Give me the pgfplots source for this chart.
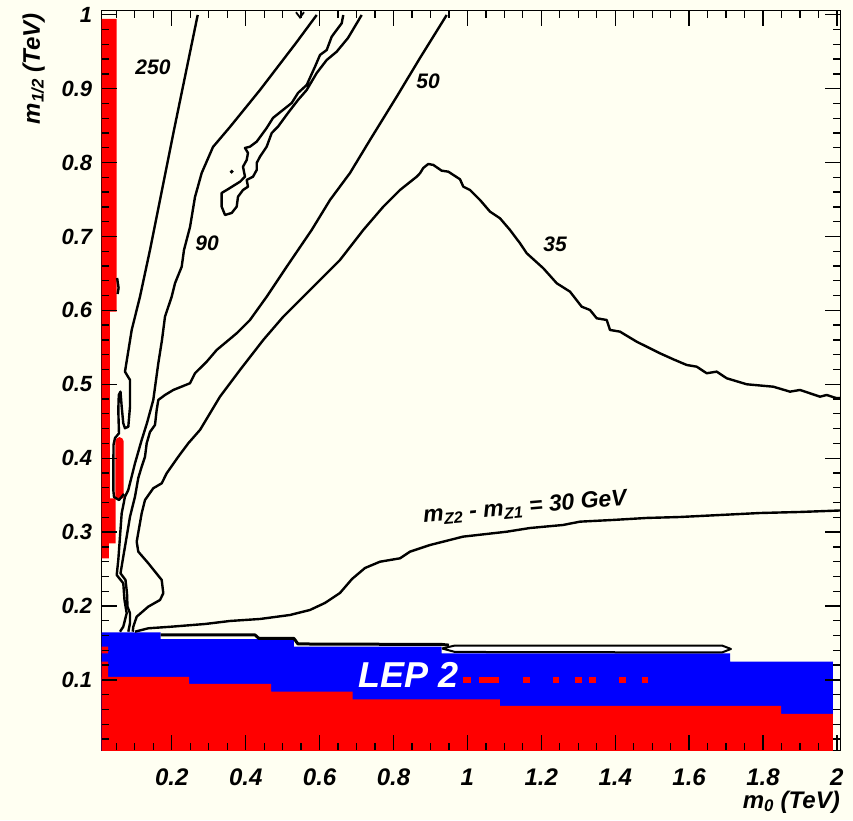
\documentclass[border=0pt]{standalone}
\usepackage{fontspec}
\setmainfont{Liberation Sans}
\usepackage{pgfplots}
\usepackage{pgfplotstable}
\pgfplotsset{compat=1.18}
\definecolor{bgc}{RGB}{255,255,242}
\definecolor{myred}{RGB}{255,0,0}
\definecolor{myblue}{RGB}{0,0,255}
\pgfplotstableread{
dx dy
-0.00176 0
0.00176 0
0.00176 1
-0.00176 1
}\vshape
\pgfplotstableread{
dx dy
0 -0.00088
0 0.00088
1 0.00088
1 -0.00088
}\hshape
\begin{document}
\begin{tikzpicture}
\fill[bgc] (0,0) rectangle (853pt,820pt);
\begin{axis}[
  at={(101.7pt,70pt)}, anchor=south west,
  width=738.3pt, height=739pt, scale only axis,
  xmin=0.0103, xmax=2.0084, ymin=0.0051, ymax=1.0051,
  axis line style={line width=1pt, black},
  tick align=inside,
  major tick length=15pt, minor tick length=7pt,
  major tick style={black, line width=0.9pt},
  minor tick style={black, line width=0.9pt},
  xtick={0.2,0.4,0.6,0.8,1,1.2,1.4,1.6,1.8,2},
  ytick={0.1,0.2,0.3,0.4,0.5,0.6,0.7,0.8,0.9,1},
  /pgf/number format/assume math mode=true,
  xticklabel style={font=\fontsize{24}{28}\selectfont\bfseries\itshape, yshift=-15pt},
  yticklabel style={font=\fontsize{22}{26}\selectfont\bfseries\itshape, xshift=-6pt},
  xlabel={m\textsubscript{0} (TeV)},
  ylabel={m\textsubscript{1/2} (TeV)},
  label style={font=\fontsize{24}{28}\selectfont\bfseries\itshape, inner sep=0pt},
  xlabel style={at={(axis description cs:1,-0.055)}, anchor=north east},
  ylabel style={at={(axis description cs:-0.0768,0.9973)}, anchor=south east, rotate=0},
]
% LEP2 excluded regions
\addplot[fill=myblue, draw=none] coordinates {(0,0) (0,0.1644) (0.1700,0.1644) (0.1700,0.1553) (0.5307,0.1553) (0.5307,0.1449) (0.9305,0.1449) (0.9305,0.1360) (1.7107,0.1360) (1.7107,0.1246) (1.9894,0.1246) (1.9894,0) (0,0)};
\addplot[fill=myred, draw=none] coordinates {(0,0) (0,0.1039) (0.2466,0.1039) (0.2466,0.0945) (0.4685,0.0945) (0.4685,0.0840) (0.6896,0.0840) (0.6896,0.0737) (1.0882,0.0737) (1.0882,0.0647) (1.8487,0.0647) (1.8487,0.0539) (1.9894,0.0539) (1.9894,0) (0,0)};
\addplot[fill=myred, draw=none] coordinates {(0,0.1) (0.028,0.1) (0.028,0.1246) (0,0.1246) (0,0.1)};
\addplot[fill=myred, draw=none] coordinates {(0,0.136) (0.028,0.136) (0.028,0.1449) (0,0.1449) (0,0.136)};
% left red strip
\addplot[fill=myred, draw=none] coordinates {(0,0.9943) (0.0509,0.9943) (0.0509,0.5982) (0.0327,0.5982) (0.0327,0.3457) (0.0482,0.3457) (0.0482,0.2848) (0.0300,0.2848) (0.0300,0.2645) (0,0.2645) (0,0.9943)};
\addplot[fill=myred, draw=none] coordinates {(0.0476,0.3457) (0.0476,0.4233) (0.0510,0.4268) (0.0585,0.4285) (0.0660,0.4268) (0.0693,0.4233) (0.0693,0.3457) (0.0476,0.3457)};
% red cells in LEP 2 row
\addplot[fill=myred, draw=none] coordinates {(0.9878,0.0958) (1.0095,0.0958) (1.0095,0.1039) (0.9878,0.1039)};
\addplot[fill=myred, draw=none] coordinates {(1.0314,0.0958) (1.0855,0.0958) (1.0855,0.1039) (1.0314,0.1039)};
\addplot[fill=myred, draw=none] coordinates {(1.1505,0.0958) (1.1695,0.0958) (1.1695,0.1039) (1.1505,0.1039)};
\addplot[fill=myred, draw=none] coordinates {(1.2315,0.0958) (1.2478,0.0958) (1.2478,0.1039) (1.2315,0.1039)};
\addplot[fill=myred, draw=none] coordinates {(1.2911,0.0958) (1.3101,0.0958) (1.3101,0.1039) (1.2911,0.1039)};
\addplot[fill=myred, draw=none] coordinates {(1.3290,0.0958) (1.3480,0.0958) (1.3480,0.1039) (1.3290,0.1039)};
\addplot[fill=myred, draw=none] coordinates {(1.4102,0.0958) (1.4292,0.0958) (1.4292,0.1039) (1.4102,0.1039)};
\addplot[fill=myred, draw=none] coordinates {(1.4725,0.0958) (1.4887,0.0958) (1.4887,0.1039) (1.4725,0.1039)};
% contour 250
\addplot[black, line width=2.4pt, mark=none, line join=round] coordinates {(0.2701,0.9997) (0.2060,0.8441) (0.1410,0.6817) (0.1139,0.6185) (0.0915,0.5735) (0.0733,0.5170) (0.0869,0.5058) (0.0869,0.4697) (0.0823,0.4426) (0.0733,0.4405) (0.0687,0.4472) (0.0644,0.4697) (0.0612,0.4900) (0.0566,0.4855) (0.0552,0.4652) (0.0571,0.4337) (0.0463,0.4273) (0.0422,0.4179) (0.0417,0.3570) (0.0436,0.3475) (0.0571,0.3434) (0.0706,0.3516)};
% contour 90
\addplot[black, line width=2.4pt, mark=none, line join=round] coordinates {(0.5922,0.9997) (0.5361,0.9618) (0.4387,0.8982) (0.3575,0.8482) (0.3115,0.8211) (0.2809,0.7859) (0.2628,0.7534) (0.2493,0.7128) (0.2330,0.6817) (0.2268,0.6591) (0.2087,0.6367) (0.1997,0.6185) (0.1816,0.5915) (0.1735,0.5600) (0.1635,0.5284) (0.1499,0.4788) (0.1329,0.4476) (0.1185,0.4246) (0.1004,0.3931) (0.0823,0.3570) (0.0733,0.3479) (0.0644,0.3254) (0.0598,0.2938) (0.0552,0.2622) (0.0509,0.2419) (0.0687,0.2307) (0.0720,0.2081) (0.0779,0.1901) (0.0733,0.1811) (0.0687,0.1720) (0.0598,0.1652)};
% contour 50
\addplot[black, line width=2.4pt, mark=none, line join=round] coordinates {(0.9440,0.9997) (0.8717,0.9415) (0.8087,0.8892) (0.7364,0.8306) (0.6823,0.7859) (0.6282,0.7494) (0.5786,0.7088) (0.5110,0.6591) (0.4568,0.6185) (0.4116,0.5870) (0.3756,0.5690) (0.3215,0.5464) (0.2945,0.5306) (0.2628,0.5149) (0.2493,0.5014) (0.2041,0.4923) (0.1816,0.4855) (0.1635,0.4788) (0.1591,0.4652) (0.1545,0.4449) (0.1410,0.4355) (0.1321,0.4202) (0.1275,0.4020) (0.1185,0.3885) (0.1093,0.3732) (0.1004,0.3479) (0.0869,0.3208) (0.0779,0.2938) (0.0687,0.2667) (0.0612,0.2442) (0.0747,0.2352) (0.0788,0.2172) (0.0801,0.1991) (0.0869,0.1901) (0.0869,0.1766) (0.0823,0.1652)};
% contour 35
\addplot[black, line width=2.4pt, mark=none, line join=round] coordinates {(0.0942,0.1652) (0.0958,0.1720) (0.1050,0.1855) (0.1364,0.1991) (0.1681,0.2081) (0.1770,0.2172) (0.1727,0.2352) (0.1364,0.2578) (0.1093,0.2735) (0.1050,0.2870) (0.1185,0.3254) (0.1275,0.3434) (0.1499,0.3593) (0.1727,0.3660) (0.1862,0.3796) (0.2176,0.4020) (0.2447,0.4202) (0.2763,0.4382) (0.3304,0.4832) (0.3846,0.5194) (0.4476,0.5600) (0.5018,0.5915) (0.5740,0.6276) (0.6552,0.6682) (0.7183,0.7088) (0.7724,0.7403) (0.8176,0.7629) (0.8628,0.7809) (0.8717,0.7855) (0.8806,0.7927) (0.8942,0.7981) (0.9077,0.7968) (0.9304,0.7890) (0.9483,0.7877) (0.9800,0.7774) (0.9889,0.7674) (1.0070,0.7629) (1.0341,0.7494) (1.0612,0.7336) (1.0882,0.7246) (1.1153,0.7088) (1.1424,0.6908) (1.1605,0.6773) (1.2054,0.6570) (1.2417,0.6367) (1.2777,0.6253) (1.3093,0.6050) (1.3318,0.6005) (1.3499,0.5893) (1.3770,0.5870) (1.3859,0.5735) (1.4130,0.5712) (1.4582,0.5576) (1.5031,0.5464) (1.5212,0.5419) (1.5572,0.5338) (1.5935,0.5261) (1.6206,0.5238) (1.6476,0.5149) (1.6747,0.5171) (1.7018,0.5081) (1.7559,0.5000) (1.8279,0.4967) (1.8731,0.4900) (1.9001,0.4923) (1.9543,0.4832) (1.9724,0.4855) (1.9995,0.4811) (2.0084,0.4815)};
% contour m_Z2 - m_Z1 = 30 GeV
\addplot[black, line width=2.4pt, mark=none, line join=round] coordinates {(0.1004,0.1652) (0.1364,0.1698) (0.1997,0.1720) (0.2898,0.1756) (0.3575,0.1797) (0.4387,0.1824) (0.5199,0.1878) (0.5740,0.1946) (0.6146,0.2041) (0.6552,0.2176) (0.6877,0.2365) (0.7229,0.2514) (0.7635,0.2599) (0.8176,0.2645) (0.8447,0.2735) (0.8988,0.2825) (0.9881,0.2938) (1.1064,0.3005) (1.1694,0.3055) (1.2587,0.3096) (1.3048,0.3141) (1.3941,0.3164) (1.4853,0.3191) (1.5754,0.3204) (1.6836,0.3231) (1.7919,0.3258) (1.9001,0.3272) (2.0084,0.3292)};
% island band between 90 and 50
\addplot[black, line width=2.4pt, mark=none, line join=round] coordinates {(0.6641,0.9997) (0.6598,0.9885) (0.6328,0.9704) (0.6192,0.9523) (0.6011,0.9456) (0.5876,0.9298) (0.5651,0.9050) (0.5416,0.8942) (0.5245,0.8806) (0.5009,0.8712) (0.4739,0.8604) (0.4568,0.8468) (0.4298,0.8283) (0.4116,0.8215) (0.3981,0.8198) (0.4062,0.8130) (0.4027,0.8035) (0.3927,0.7944) (0.3981,0.7809) (0.3846,0.7741) (0.3486,0.7629) (0.3350,0.7589) (0.3350,0.7403) (0.3440,0.7291) (0.3621,0.7318) (0.3756,0.7403) (0.3792,0.7538) (0.3927,0.7629) (0.4062,0.7674) (0.4027,0.7765) (0.4198,0.7809) (0.4298,0.7900) (0.4298,0.7995) (0.4387,0.8080) (0.4568,0.8215) (0.4704,0.8400) (0.4874,0.8486) (0.5145,0.8671) (0.5416,0.8847) (0.5651,0.8982) (0.5922,0.9212) (0.6192,0.9388) (0.6463,0.9501) (0.6769,0.9686) (0.7139,0.9997)};
\addplot[only marks, mark=*, mark size=1.8pt, black] coordinates {(0.3621,0.7877)};
\addplot[black, line width=1.8pt, mark=none] coordinates {(0.5361,1.0035) (0.5470,0.9963) (0.5578,1.0035)};
\addplot[black, line width=2.4pt, mark=none] coordinates {(0.0520,0.6438) (0.0560,0.6304) (0.0533,0.6221)};
% thin band above the blue region
\addplot[black, line width=3pt, mark=none, line join=round] coordinates {(0.1700,0.1608) (0.4252,0.1608) (0.4360,0.1560) (0.5307,0.1560) (0.5415,0.1486) (0.9313,0.1479) (0.9500,0.1470)};
\addplot[black, fill=white, line width=2pt, mark=none, line join=round] coordinates {(0.9313,0.1425) (0.9664,0.1465) (1.6890,0.1465) (1.7133,0.1418) (1.6890,0.1371) (0.9664,0.1378) (0.9313,0.1425)};
% tick marks (inside, on all four sides), drawn as thin filled bars
\pgfplotsinvokeforeach{0.2,0.4,0.6,0.8,1,1.2,1.4,1.6,1.8,2}{
  \addplot[fill=black, draw=none] table[x expr=#1+\thisrow{dx}, y expr=0.0051+0.0203*\thisrow{dy}] {\vshape};
  \addplot[fill=black, draw=none] table[x expr=#1+\thisrow{dx}, y expr=1.0051-0.0203*\thisrow{dy}] {\vshape};
}
\pgfplotsinvokeforeach{0.05,0.1,0.15,0.25,0.3,0.35,0.45,0.5,0.55,0.65,0.7,0.75,0.85,0.9,0.95,1.05,1.1,1.15,1.25,1.3,1.35,1.45,1.5,1.55,1.65,1.7,1.75,1.85,1.9,1.95}{
  \addplot[fill=black, draw=none] table[x expr=#1+\thisrow{dx}, y expr=0.0051+0.0095*\thisrow{dy}] {\vshape};
  \addplot[fill=black, draw=none] table[x expr=#1+\thisrow{dx}, y expr=1.0051-0.0095*\thisrow{dy}] {\vshape};
}
\pgfplotsinvokeforeach{0.1,0.2,0.3,0.4,0.5,0.6,0.7,0.8,0.9,1}{
  \addplot[fill=black, draw=none] table[x expr=0.0103+0.0406*\thisrow{dx}, y expr=#1+\thisrow{dy}] {\hshape};
  \addplot[fill=black, draw=none] table[x expr=2.0084-0.0406*\thisrow{dx}, y expr=#1+\thisrow{dy}] {\hshape};
}
\pgfplotsinvokeforeach{0.02,0.04,0.06,0.08,0.12,0.14,0.16,0.18,0.22,0.24,0.26,0.28,0.32,0.34,0.36,0.38,0.42,0.44,0.46,0.48,0.52,0.54,0.56,0.58,0.62,0.64,0.66,0.68,0.72,0.74,0.76,0.78,0.82,0.84,0.86,0.88,0.92,0.94,0.96,0.98}{
  \addplot[fill=black, draw=none] table[x expr=0.0103+0.019*\thisrow{dx}, y expr=#1+\thisrow{dy}] {\hshape};
  \addplot[fill=black, draw=none] table[x expr=2.0084-0.019*\thisrow{dx}, y expr=#1+\thisrow{dy}] {\hshape};
}
% labels
\node[font=\fontsize{21}{25}\selectfont\bfseries\itshape] at (axis cs:0.1491,0.9294) {250};
\node[font=\fontsize{21}{25}\selectfont\bfseries\itshape] at (axis cs:0.2953,0.6912) {90};
\node[font=\fontsize{21}{25}\selectfont\bfseries\itshape] at (axis cs:0.8934,0.9104) {50};
\node[font=\fontsize{21}{25}\selectfont\bfseries\itshape] at (axis cs:1.2371,0.6899) {35};
\node[font=\fontsize{23}{27}\selectfont\bfseries\itshape, rotate=5] at (axis cs:1.1559,0.3330) {m\textsubscript{Z2} - m\textsubscript{Z1} = 30 GeV};
\node[font=\fontsize{36}{40}\selectfont\bfseries\itshape, text=white] at (axis cs:0.8417,0.1066) {LEP 2};
\end{axis}
\pgfresetboundingbox
\path (0,0) rectangle (853pt,820pt);
\end{tikzpicture}
\end{document}
